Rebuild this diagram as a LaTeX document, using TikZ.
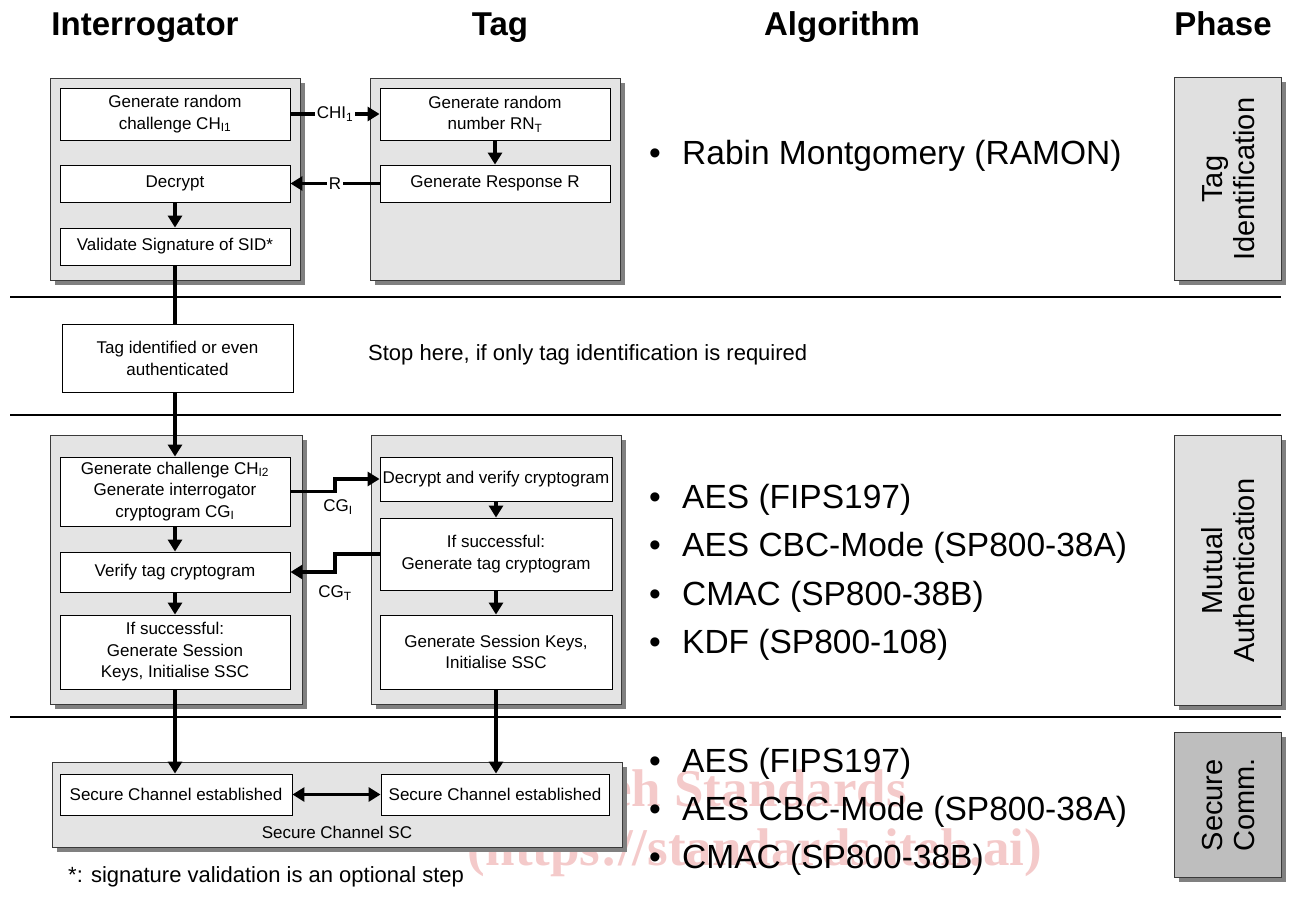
\documentclass[tikz,border=0pt]{standalone}
\usepackage{fontspec}
\setmainfont{Liberation Sans}
\newfontfamily\wmfont{Liberation Serif}
\usetikzlibrary{arrows.meta,shadows}
\definecolor{grpgray}{HTML}{E4E4E4}
\definecolor{phgray}{HTML}{E0E0E0}
\definecolor{phdark}{HTML}{BEBEBE}
\definecolor{edgegray}{HTML}{3A3A3A}
\definecolor{wmpink}{RGB}{244,202,202}
\newcommand\boxfnt{\fontsize{17}{21.5}\selectfont}
\tikzset{
  shd/.style={drop shadow={shadow xshift=4pt,shadow yshift=-4pt,fill=black!50,opacity=1}},
  grp/.style={draw=edgegray,line width=1.3pt,fill=grpgray,shd,inner sep=0pt,anchor=north west},
  bx/.style={draw=black,line width=0.9pt,fill=white,align=center,inner sep=2pt,font=\boxfnt,minimum width=230pt},
  lbl/.style={font=\boxfnt,inner sep=1.5pt},
  arr/.style={line width=3.8pt,-{Triangle[length=12pt,width=14pt]}},
  darr/.style={line width=3.8pt,{Triangle[length=12pt,width=14pt]}-{Triangle[length=12pt,width=14pt]}},
  thk/.style={line width=3.8pt},
  hdr/.style={font=\fontsize{33}{36}\selectfont\bfseries,anchor=base},
  alg/.style={font=\fontsize{33.5}{38}\selectfont,anchor=base west,inner sep=0pt},
  bul/.style={font=\fontsize{33.5}{38}\selectfont,anchor=base,inner sep=0pt},
  phbox/.style={draw=edgegray,line width=1.3pt,shd,inner sep=0pt,anchor=north west,minimum width=107pt},
  phtxt/.style={rotate=90,align=center,font=\fontsize{29}{32}\selectfont},
  sep/.style={line width=1.3pt},
  wm/.style={text=wmpink,font=\wmfont\bfseries\fontsize{53}{53}\selectfont}
}
\begin{document}
\begin{tikzpicture}[x=1pt,y=-1pt]
\useasboundingbox (0,0) rectangle (1289,896);
% watermark
\node[wm] (wm1) at (735,788) {iTeh Standards};
\node[wm] (wm2) at (755,853) {(https://standards.iteh.ai)};
% headers
\node[hdr] (h1) at (145,36) {Interrogator};
\node[hdr] (h2) at (500,36) {Tag};
\node[hdr] (h3) at (842,36) {Algorithm};
\node[hdr] (h4) at (1223,36) {Phase};
% separators
\coordinate (sL1) at (10,297); \coordinate (sR1) at (1281,297);
\coordinate (sL2) at (10,415); \coordinate (sR2) at (1281,415);
\coordinate (sL3) at (10,717); \coordinate (sR3) at (1281,717);
\draw[sep] (sL1) -- (sR1);
\draw[sep] (sL2) -- (sR2);
\draw[sep] (sL3) -- (sR3);
% group 1
\node[grp,minimum width=250pt,minimum height=202pt] (gI1) at (50,78) {};
\node[grp,minimum width=250pt,minimum height=202pt] (gT1) at (370,78) {};
\node[bx,minimum height=52pt] (I1a) at (175,114) {Generate random\\challenge CH\textsubscript{I1}};
\node[bx,minimum height=37pt] (I1b) at (175,183.5) {Decrypt};
\node[bx,minimum height=37pt] (I1c) at (175,246.5) {Validate Signature of SID*};
\node[bx,minimum height=52pt] (T1a) at (495,114) {Generate random\\number RN\textsubscript{T}};
\node[bx,minimum height=37pt] (T1b) at (495,183.5) {Generate Response R};
% tag identified
\node[bx,minimum width=231pt,minimum height=68pt] (tid) at (177.5,358.5) {Tag identified or even\\authenticated};
\node[font=\fontsize{22}{26}\selectfont,anchor=west,inner sep=0pt] (stop) at (368,355) {Stop here, if only tag identification is required};
% group 2
\node[grp,minimum width=252pt,minimum height=269pt] (gI2) at (50,435) {};
\node[grp,minimum width=250pt,minimum height=269pt] (gT2) at (371,435) {};
\node[bx,minimum height=69pt] (I2a) at (175,491.5) {Generate challenge CH\textsubscript{I2}\\Generate interrogator\\cryptogram CG\textsubscript{I}};
\node[bx,minimum height=40pt] (I2b) at (175,572) {Verify tag cryptogram};
\node[bx,minimum height=74pt] (I2c) at (175,652) {If successful:\\Generate Session\\Keys, Initialise SSC};
\node[bx,minimum width=232pt,minimum height=44pt] (T2a) at (496,479) {Decrypt and verify cryptogram};
\node[bx,minimum width=232pt,minimum height=72pt] (T2b) at (496,554) {If successful:\\Generate tag cryptogram};
\node[bx,minimum width=232pt,minimum height=74pt] (T2c) at (496,652) {Generate Session Keys,\\Initialise SSC};
% secure channel group
\node[grp,minimum width=570pt,minimum height=85pt] (gSC) at (52,762) {};
\node[bx,minimum width=232pt,minimum height=41pt] (SCl) at (176,794.5) {Secure Channel established};
\node[bx,minimum width=228pt,minimum height=41pt] (SCr) at (495,794.5) {Secure Channel established};
\node[lbl] (SClab) at (337,832) {Secure Channel SC};
\node[font=\fontsize{22}{26}\selectfont,anchor=west,inner sep=0pt] (foot) at (68,877) {*: signature validation is an optional step};
% connectors
\draw[arr] (I1a.east) -- node[lbl,fill=white]{CHI\textsubscript{1}} (T1a.west);
\draw[arr] (T1b.west) -- node[lbl,fill=white]{R} (I1b.east);
\draw[arr] (I1b.south) -- (I1c.north);
\draw[arr] (T1a.south) -- (T1b.north);
\draw[thk] (I1c.south) -- (I1c.south |- tid.north);
\draw[arr] (I1c.south |- tid.south) -- (I2a.north);
\coordinate (kI) at (335,0);
\draw[arr] (I2a.east) -- (I2a.east -| kI) -- (T2a.west -| kI) -- (T2a.west);
\draw[arr] (T2b.west) -- (T2b.west -| kI) -- (I2b.east -| kI) -- (I2b.east);
\node[lbl] (cgi) at (338,507) {CG\textsubscript{I}};
\node[lbl] (cgt) at (335,593) {CG\textsubscript{T}};
\draw[arr] (I2a.south) -- (I2b.north);
\draw[arr] (I2b.south) -- (I2c.north);
\draw[arr] (T2a.south) -- (T2b.north);
\draw[arr] (T2b.south) -- (T2c.north);
\draw[arr] (I2c.south) -- (I2c.south |- SCl.north);
\draw[arr] (T2c.south) -- (T2c.south |- SCr.north);
\draw[darr] (SCl.east) -- (SCr.west);
% algorithms
\node[bul] (b1) at (655,165) {•};
\node[alg] (a1) at (682,165) {Rabin Montgomery (RAMON)};
\node[bul] (b2) at (655,508) {•};
\node[alg] (a2) at (682,508) {AES (FIPS197)};
\node[bul] (b3) at (655,556.5) {•};
\node[alg] (a3) at (682,556.5) {AES CBC-Mode (SP800-38A)};
\node[bul] (b4) at (655,605) {•};
\node[alg] (a4) at (682,605) {CMAC (SP800-38B)};
\node[bul] (b5) at (655,653.5) {•};
\node[alg] (a5) at (682,653.5) {KDF (SP800-108)};
\node[bul] (b6) at (655,772) {•};
\node[alg] (a6) at (682,772) {AES (FIPS197)};
\node[bul] (b7) at (655,820) {•};
\node[alg] (a7) at (682,820) {AES CBC-Mode (SP800-38A)};
\node[bul] (b8) at (655,868) {•};
\node[alg] (a8) at (682,868) {CMAC (SP800-38B)};
% phases
\node[phbox,fill=phgray,minimum height=203pt] (p1) at (1174,77) {};
\node[phtxt] (p1t) at (p1.center) {Tag\\Identification};
\node[phbox,fill=phgray,minimum height=270pt] (p2) at (1174,435) {};
\node[phtxt] (p2t) at (p2.center) {Mutual\\Authentication};
\node[phbox,fill=phdark,minimum height=145pt] (p3) at (1174,732) {};
\node[phtxt] (p3t) at (p3.center) {Secure\\Comm.};
\end{tikzpicture}
\end{document}
